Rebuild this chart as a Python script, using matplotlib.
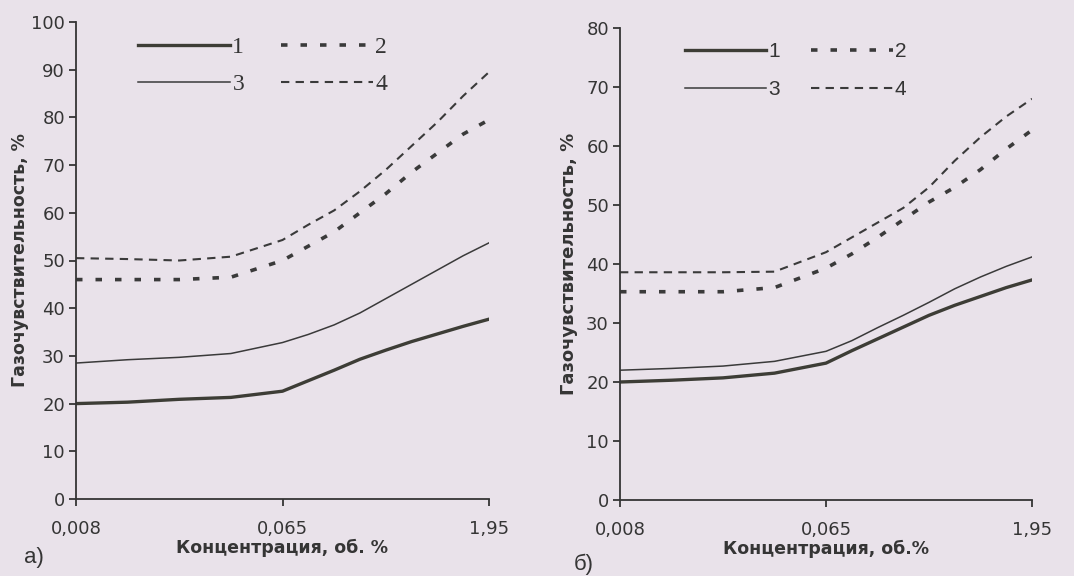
import matplotlib
matplotlib.use("Agg")
import matplotlib.pyplot as plt
from matplotlib.lines import Line2D

plt.rcParams['font.family'] = ['DejaVu Sans']

# ---- data (x = position along the categorical concentration axis) ----
x_tick_labels = ["0,008", "0,065", "1,95"]
x_pos = [0, 0.25, 0.5, 0.75, 1.0, 1.125, 1.25, 1.375, 1.5, 1.625, 1.75, 1.875, 2.0]

a_c1 = [20, 20.3, 20.9, 21.3, 22.6, 24.8, 27.0, 29.3, 31.2, 33.0, 34.6, 36.2, 37.7]
a_c2 = [46, 46, 46, 46.5, 50, 53, 56, 60, 64, 68.5, 72.5, 76.5, 79.5]
a_c3 = [28.5, 29.2, 29.7, 30.5, 32.8, 34.5, 36.5, 39, 42, 45, 48, 51, 53.7]
a_c4 = [50.5, 50.3, 50.0, 50.8, 54.3, 57.5, 60.5, 64.5, 69, 74, 79, 84.5, 89.5]

b_c1 = [20, 20.3, 20.7, 21.5, 23.2, 25.3, 27.3, 29.3, 31.3, 33, 34.5, 36, 37.3]
b_c2 = [35.3, 35.3, 35.3, 36, 39.3, 41.7, 44.5, 47.5, 50.5, 53, 56, 59.5, 62.7]
b_c3 = [22, 22.3, 22.7, 23.5, 25.2, 27, 29.2, 31.3, 33.5, 35.8, 37.8, 39.6, 41.2]
b_c4 = [38.6, 38.6, 38.6, 38.7, 42, 44.5, 47, 49.5, 53, 57.5, 61.5, 65, 68]

a_yticks = list(range(0, 101, 10))
b_yticks = list(range(0, 81, 10))
series_labels = ["1", "2", "3", "4"]
y_label = "Газочувствительность, %"
a_xlabel = "Концентрация, об. %"
b_xlabel = "Концентрация, об.%"

BG = '#e9e2ea'
INK = '#353535'

styles = {
    "1": dict(color='#3d3d36', lw=2.4, ls='-'),
    "2": dict(color='#3a3a3a', lw=2.6, ls=(0, (1.8, 3.6)), dash_capstyle='butt'),
    "3": dict(color='#3a3a3a', lw=1.1, ls='-'),
    "4": dict(color='#3a3a3a', lw=1.5, ls=(0, (4, 3))),
}

fig = plt.figure(figsize=(10.74, 5.76), dpi=100, facecolor=BG)


def panel(rect, curves, yticks, xlabel, tag, tag_xy, ylabel_x, ylabel_size,
          leg_anchor, leg_font, colspace, labspace):
    ax = fig.add_axes(rect)
    ax.set_facecolor(BG)
    for lab, ys in zip(series_labels, curves):
        ax.plot(x_pos, ys, **styles[lab])
    ax.set_xlim(0, 2)
    ax.set_ylim(yticks[0], yticks[-1])
    ax.set_xticks([0, 1, 2])
    ax.set_xticklabels(x_tick_labels)
    ax.set_yticks(yticks)
    for s in ('top', 'right'):
        ax.spines[s].set_visible(False)
    for s in ('left', 'bottom'):
        ax.spines[s].set_color(INK)
        ax.spines[s].set_linewidth(1.3)
    ax.tick_params(axis='both', colors=INK, labelcolor=INK, labelsize=13,
                   length=5, width=1.3, direction='out')
    ax.tick_params(axis='y', pad=3)
    ax.tick_params(axis='x', pad=10)
    ax.set_xlabel(xlabel, fontsize=12.5, fontweight='bold', color=INK, labelpad=0.5)
    ax.set_ylabel(y_label, fontsize=ylabel_size, fontweight='bold', color=INK)
    ax.yaxis.set_label_coords(ylabel_x, 0.5)
    handles = [Line2D([], [], **styles[l]) for l in series_labels]
    order = [0, 2, 1, 3]
    ax.legend([handles[i] for i in order], [series_labels[i] for i in order],
              ncol=2, loc='upper left', bbox_to_anchor=leg_anchor,
              frameon=False, prop=leg_font, handlelength=3.9, handletextpad=0.1,
              columnspacing=colspace, labelspacing=labspace, borderpad=0,
              borderaxespad=0, labelcolor=INK)
    fig.text(tag_xy[0], tag_xy[1], tag, fontsize=16, color=INK, ha='left',
             va='center', family='Liberation Sans')
    return ax


panel([76 / 1074, 1 - 499 / 576, 413 / 1074, 477 / 576],
      [a_c1, a_c2, a_c3, a_c4], a_yticks, a_xlabel, "а)",
      (24 / 1074, 1 - 557 / 576), -0.113, 12.5, (0.150, 0.969),
      dict(family='Liberation Serif', size=17), 1.55, 0.65)
panel([620 / 1074, 1 - 500 / 576, 412 / 1074, 472 / 576],
      [b_c1, b_c2, b_c3, b_c4], b_yticks, b_xlabel, "б)",
      (574 / 1074, 1 - 564 / 576), -0.102, 13, (0.158, 0.970),
      dict(family='Liberation Sans', size=15), 1.5, 0.9)

fig.savefig("out.png", dpi=100, facecolor=BG)
